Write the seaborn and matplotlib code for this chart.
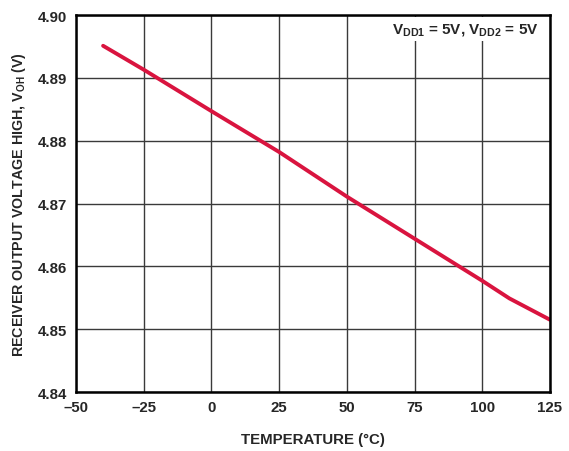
import numpy as np
import pandas as pd
import seaborn as sns
import matplotlib
matplotlib.use("Agg")
import matplotlib.pyplot as plt

# values
Temperature = [-40, -25, 0, 25, 50, 75, 100, 105, 110, 125]
Voh = [4.8951, 4.8913, 4.8847, 4.8782, 4.8711, 4.8644, 4.8577, 4.8563, 4.8549, 4.8515]
X_Ticks = [-50, -25, 0, 25, 50, 75, 100, 125]
X_Labels = ["\u201350", "\u201325", "0", "25", "50", "75", "100", "125"]
Y_Ticks = [4.84, 4.85, 4.86, 4.87, 4.88, 4.89, 4.90]
Y_Labels = ["4.84", "4.85", "4.86", "4.87", "4.88", "4.89", "4.90"]

sns.set_style("white")
plt.rcParams['font.family'] = ['Liberation Sans', 'DejaVu Sans']
plt.rcParams['font.weight'] = 'bold'
plt.rcParams['mathtext.fontset'] = 'custom'
plt.rcParams['mathtext.rm'] = 'Liberation Sans:bold'
plt.rcParams['mathtext.bf'] = 'Liberation Sans:bold'
plt.rcParams['mathtext.it'] = 'Liberation Sans:bold'

Data = pd.DataFrame({"T": Temperature, "V": Voh})

fig = plt.figure(figsize=(5.69, 4.52), dpi=100)
ax = fig.add_axes([0.1336, 0.1305, 0.8330, 0.8341])

sns.lineplot(data=Data, x="T", y="V", ax=ax, color="#d9143f", linewidth=2.8)

ax.set_xlim(-50, 125)
ax.set_ylim(4.84, 4.90)
ax.set_xticks(X_Ticks)
ax.set_xticklabels(X_Labels, fontsize=10.8, fontweight='bold')
ax.set_yticks(Y_Ticks)
ax.set_yticklabels(Y_Labels, fontsize=10.8, fontweight='bold')
ax.tick_params(axis='x', length=0, pad=5.5)
ax.tick_params(axis='y', length=0, pad=6.5)
ax.grid(True, color="#3a3a3a", linewidth=1.0)
ax.set_axisbelow(True)
for s in ax.spines.values():
    s.set_color("black")
    s.set_linewidth(1.8)

ax.set_xlabel("TEMPERATURE (\u00b0C)", fontsize=10.8, fontweight='bold', labelpad=13)
ax.set_ylabel(r"RECEIVER OUTPUT VOLTAGE HIGH, V$_{\mathrm{OH}}$ (V)", fontsize=10.3, fontweight='bold', labelpad=7)

# white box hides the grid under the label, spines stay on top
ax.text(0.975, 0.963, r"V$_{\mathrm{DD1}}$ = 5V, V$_{\mathrm{DD2}}$ = 5V", transform=ax.transAxes,
        ha='right', va='center', fontsize=11, fontweight='bold',
        bbox=dict(facecolor='white', edgecolor='none', pad=3), zorder=2.2)

plt.savefig("out.png", dpi=100)
